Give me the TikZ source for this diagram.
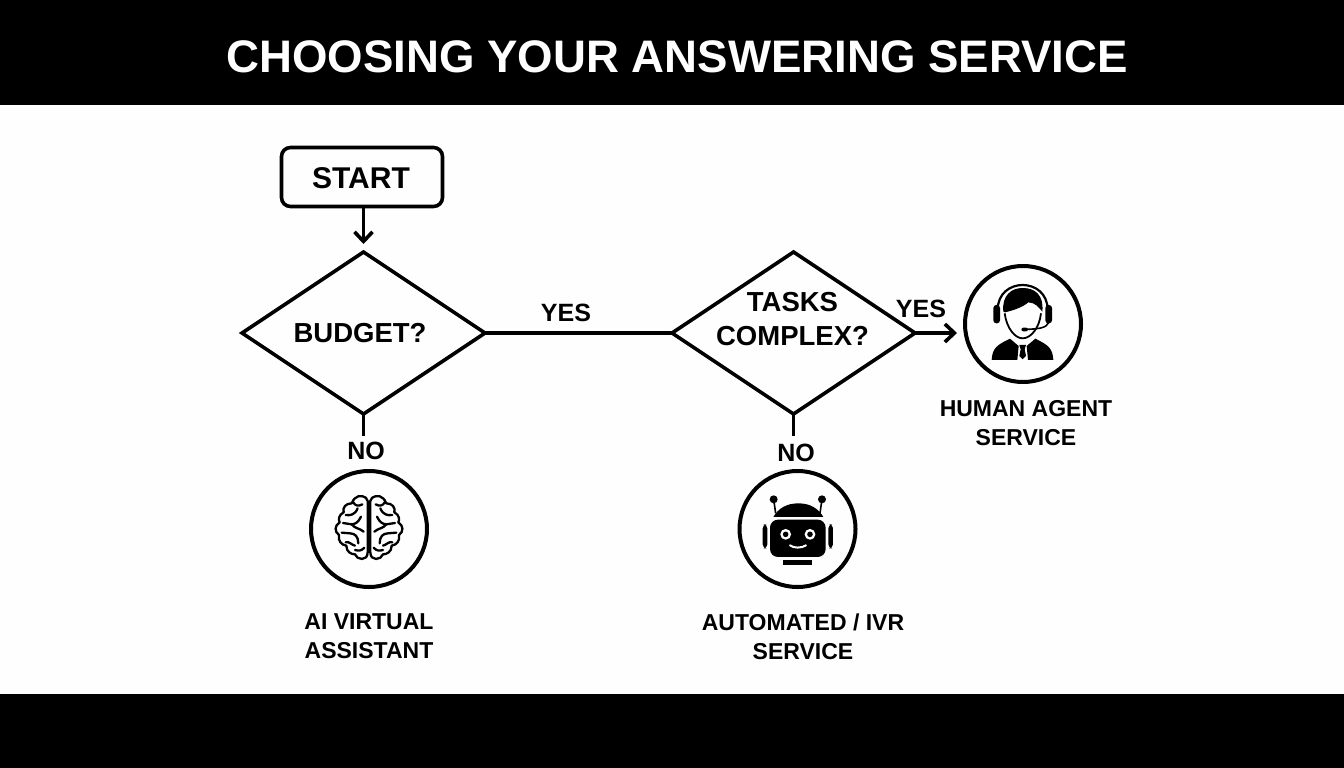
\documentclass[tikz,border=0pt]{standalone}
\usepackage{fontspec}
\setmainfont{Liberation Sans}
\usetikzlibrary{shapes.geometric,arrows.meta,calc}
\tikzset{
  flow/.style={line width=3.6pt,black},
  chevron/.style={-{Straight Barb[length=9.5pt,width=18pt,line width=3.6pt]}},
  dec/.style={draw,flow,shape=diamond,shape aspect=1.5,inner sep=0pt,outer sep=0pt,minimum width=243pt,minimum height=162pt},
  dectext/.style={font=\bfseries\fontsize{27.5}{34}\selectfont,align=center,inner sep=0pt},
  startbox/.style={draw,flow,rounded corners=9pt,minimum width=161pt,minimum height=59pt,inner sep=0pt,outer sep=0pt},
  ring/.style={draw,line width=4pt,circle,minimum size=116pt,inner sep=0pt,outer sep=0pt},
  lab/.style={font=\bfseries\fontsize{25}{30}\selectfont,inner sep=0pt},
  caplab/.style={font=\bfseries\fontsize{23}{29}\selectfont,inner sep=0pt,align=center},
  zoomA/.style={x=0.3333pt,y=-0.3333pt},
}
\begin{document}
\begin{tikzpicture}[x=1pt,y=-1pt]
\useasboundingbox (0,0) rectangle (1344,768);
\fill[white!99.5!black] (0,0) rectangle (1344,768);
\fill[black] (0,0) rectangle (1344,105);
\fill[black] (0,694) rectangle (1344,768);
\node[text=white,font=\bfseries\fontsize{45.6}{50}\selectfont,inner sep=0pt] (title) at (677,57) {CHOOSING YOUR ANSWERING SERVICE};

\node[startbox] (start) at (362,177) {};
\node[dec] (budget) at (363.5,333) {};
\node[dec] (tasks) at (793.5,333) {};
\node[font=\bfseries\fontsize{30}{34}\selectfont,inner sep=0pt] (starttext) at (361,178) {START};
\node[dectext] (budgettext) at (360,333) {BUDGET?};
\node[dectext] (taskstext) at (792.5,319) {TASKS\\COMPLEX?};
\node[ring] (human) at (1023,324) {};
\node[ring] (brain) at (369,529) {};
\node[ring] (robot) at (797.5,529) {};

\coordinate (bno) at (363.5,436);
\coordinate (tno) at (793.5,436);
\draw[flow,chevron,shorten >=8pt] (start.south -| budget.north) -- (budget.north);
\draw[flow] (budget.east) -- (tasks.west);
\draw[flow,chevron,shorten >=8pt] (tasks.east) -- (tasks.east -| human.west);
\draw[flow] (budget.south) -- (bno);
\draw[flow] (tasks.south) -- (tno);

\node[lab] (yesa) at (566,313) {YES};
\node[lab] (yesb) at (921,309) {YES};
\node[lab] (noa) at (366,451) {NO};
\node[lab] (nob) at (796,453) {NO};
\node[caplab] (humancap) at (1026,423.5) {HUMAN AGENT\\SERVICE};
\node[caplab] (aicap) at (369,636.5) {AI VIRTUAL\\ASSISTANT};
\node[caplab] (ivrcap) at (803,636.5) {AUTOMATED / IVR\\SERVICE};

% human agent icon
\begin{scope}[shift={(960,260)},zoomA]
 \draw[line width=2.2pt] (113,150) .. controls (113,50) and (263,50) .. (263,150);
 \fill[rounded corners=3pt] (100,135) rectangle (120,190);
 \fill[rounded corners=3pt] (256,135) rectangle (276,190);
 \fill (130,155) .. controls (125,105) and (155,84) .. (188,84) .. controls (225,84) and (252,105) .. (247,155)
   .. controls (235,140) and (225,128) .. (205,127) .. controls (190,140) and (165,150) .. (135,157) -- cycle;
 \draw[line width=1.8pt] (134,160) .. controls (140,205) and (165,235) .. (188,235) .. controls (212,235) and (238,205) .. (243,160);
 \draw[line width=1.6pt] (266,188) .. controls (260,205) and (230,207) .. (200,208);
 \fill[rounded corners=2pt] (184,203) rectangle (204,214);
 \fill (95,300) .. controls (97,265) and (110,255) .. (150,236) -- (176,258) -- (172,300) -- cycle;
 \fill (280,300) .. controls (278,265) and (265,255) .. (226,236) -- (200,258) -- (204,300) -- cycle;
 \fill (178,255) -- (198,255) -- (194,268) -- (198,288) -- (188,298) -- (178,288) -- (182,268) -- cycle;
\end{scope}

% brain icon
\begin{scope}[shift={(305,465)},zoomA,line width=2.3pt,line cap=round,line join=round]
 \foreach \m/\o in {1/0,-1/384}{
 \begin{scope}[xshift=\o*0.3333pt,xscale=\m]
  \draw (188,108) .. controls (186,92) and (160,88) .. (150,100) .. controls (140,108) and (145,112) .. (140,115)
    .. controls (122,115) and (112,128) .. (116,142) .. controls (100,150) and (100,165) .. (104,172)
    .. controls (88,182) and (88,200) .. (102,210) .. controls (98,228) and (110,240) .. (124,242)
    .. controls (124,262) and (140,268) .. (150,268) .. controls (155,285) and (188,290) .. (188,262) -- cycle;
  \draw (122,150) .. controls (135,152) and (150,150) .. (158,130);
  \draw (145,112) .. controls (150,122) and (160,125) .. (172,118);
  \draw (114,174) -- (140,178) .. controls (150,178) and (160,172) .. (168,155);
  \draw (140,178) .. controls (148,190) and (165,190) .. (176,200);
  \draw (110,203) -- (135,205) .. controls (150,205) and (160,215) .. (160,235);
  \draw (122,232) .. controls (132,228) and (140,240) .. (150,242);
  \draw (150,255) .. controls (160,258) and (170,258) .. (178,248);
 \end{scope}}
\end{scope}

% robot icon
\begin{scope}[shift={(735,465)},zoomA]
 \fill (116,103) circle[radius=4pt];
 \fill (261,103) circle[radius=4pt];
 \draw[line width=1.6pt] (116,103) -- (122,145);
 \draw[line width=1.6pt] (261,103) -- (255,145);
 \fill (115,156) .. controls (130,130) and (155,115) .. (190,115) .. controls (225,115) and (250,130) .. (265,156) -- cycle;
 \fill[rounded corners=8pt] (105,164) rectangle (272,276);
 \fill[rounded corners=4pt] (83,178) -- (97,178) -- (97,250) -- (83,250) -- cycle;
 \fill[rounded corners=4pt] (280,178) -- (294,178) -- (294,250) -- (280,250) -- cycle;
 \fill[white] (152,208) circle[radius=5.4pt];
 \fill[white] (225,208) circle[radius=5.4pt];
 \fill (152,208) circle[radius=2.8pt];
 \fill (225,208) circle[radius=2.8pt];
 \draw[white,line width=2pt,line cap=round] (165,241) .. controls (175,250) and (200,250) .. (213,241);
 \fill (145,285) rectangle (232,301);
\end{scope}
\end{tikzpicture}
\end{document}
